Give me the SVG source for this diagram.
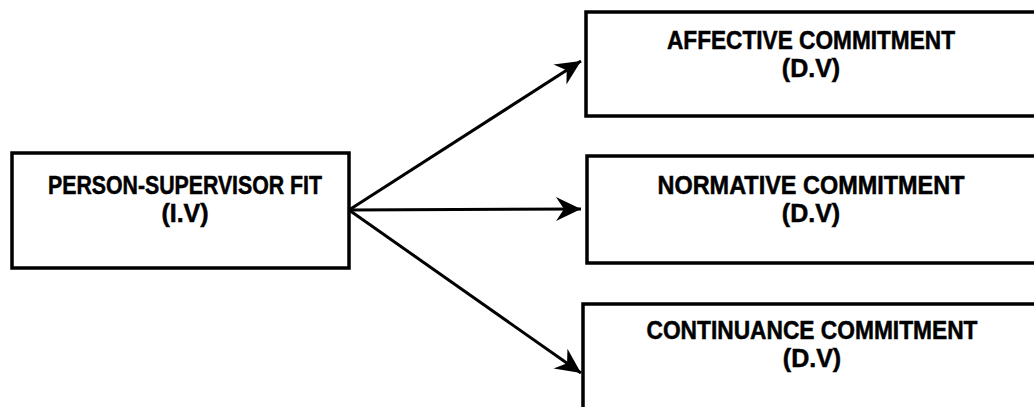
<svg xmlns="http://www.w3.org/2000/svg" width="1034" height="407" viewBox="0 0 1034 407">
  <style>
    .box { fill: #ffffff; stroke: #000000; stroke-width: 3.5; }
    .lbl { font-family: "Liberation Sans", Arial, sans-serif; font-weight: bold; font-size: 25px; fill: #000000; stroke: #000000; stroke-width: 0.5; text-anchor: middle; }
    .conn { stroke: #000000; stroke-width: 3; fill: none; marker-end: url(#arrow); }
  </style>
  <defs>
    <marker id="arrow" markerUnits="userSpaceOnUse" markerWidth="30" markerHeight="30" viewBox="-27 -14 30 28" refX="0" refY="0" orient="auto">
      <path d="M0,0 L-25,-12 L-17,0 L-25,12 Z" fill="#000000"/>
    </marker>
  </defs>
  <rect width="1034" height="407" fill="#ffffff"/>

  <g id="connectors">
    <line class="conn" x1="349" y1="210" x2="581" y2="61"/>
    <line class="conn" x1="349" y1="210" x2="581" y2="209"/>
    <line class="conn" x1="349" y1="210" x2="581" y2="373"/>
  </g>

  <g id="person-supervisor-fit">
    <rect class="box" x="12" y="153" width="337" height="115"/>
    <text class="lbl" x="185" y="194" textLength="274" lengthAdjust="spacingAndGlyphs">PERSON-SUPERVISOR FIT</text>
    <text class="lbl" x="185" y="222">(I.V)</text>
  </g>

  <g id="affective-commitment">
    <rect class="box" x="586" y="12" width="460" height="104"/>
    <text class="lbl" x="811" y="49" textLength="288" lengthAdjust="spacingAndGlyphs">AFFECTIVE COMMITMENT</text>
    <text class="lbl" x="811" y="77">(D.V)</text>
  </g>

  <g id="normative-commitment">
    <rect class="box" x="587" y="156" width="460" height="107"/>
    <text class="lbl" x="811" y="194" textLength="307" lengthAdjust="spacingAndGlyphs">NORMATIVE COMMITMENT</text>
    <text class="lbl" x="811" y="222">(D.V)</text>
  </g>

  <g id="continuance-commitment">
    <rect class="box" x="583" y="304" width="460" height="120"/>
    <text class="lbl" x="812" y="339" textLength="331" lengthAdjust="spacingAndGlyphs">CONTINUANCE COMMITMENT</text>
    <text class="lbl" x="812" y="367">(D.V)</text>
  </g>
</svg>
